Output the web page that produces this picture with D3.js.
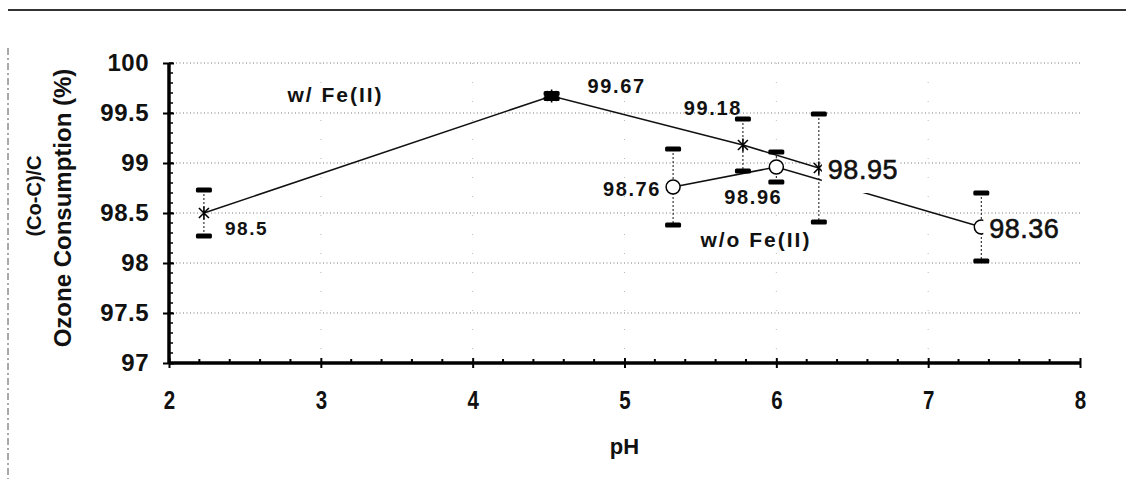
<!DOCTYPE html>
<html>
<head>
<meta charset="utf-8">
<script src="https://cdn.jsdelivr.net/npm/d3@7"></script>
<style>
  html, body { margin: 0; padding: 0; background: #fff; }
  svg { display: block; }
  text { font-family: "Liberation Sans", Arial, Helvetica, sans-serif; fill: #111; }
</style>
</head>
<body>
<svg id="chart" width="1126" height="479"></svg>
<script>
// Ozone consumption vs pH, with and without Fe(II)
const seriesNames = ["w/ Fe(II)", "w/o Fe(II)"];

const phWith = [2.23, 4.52, 5.78, 6.28];
const consWith = [98.5, 99.67, 99.18, 98.95];
const errWith = [0.23, 0.025, 0.26, 0.54];

const phWithout = [5.32, 6.0, 7.35];
const consWithout = [98.76, 98.96, 98.36];
const errWithout = [0.38, 0.15, 0.34];

const xTicks = [2, 3, 4, 5, 6, 7, 8];
const yTicks = [97, 97.5, 98, 98.5, 99, 99.5, 100];
const xTitle = "pH";
const yTitleLines = ["(Co-C)/C", "Ozone Consumption (%)"];

const svg = d3.select("#chart");

const x = d3.scaleLinear().domain([2, 8]).range([169, 1080]);
const y = d3.scaleLinear().domain([97, 100]).range([363, 63]);

// page frame remnants: top rule and dashed left edge
svg.append("line").attr("x1", 8).attr("x2", 1126).attr("y1", 10).attr("y2", 10)
  .attr("stroke", "#333").attr("stroke-width", 2);
svg.append("line").attr("x1", 8).attr("x2", 8).attr("y1", 48).attr("y2", 479)
  .attr("stroke", "#555").attr("stroke-width", 1).attr("stroke-dasharray", "7,3,2,3");

// horizontal dotted gridlines
svg.append("g").selectAll("line").data(yTicks.filter(d => d > 97)).join("line")
  .attr("x1", x(2)).attr("x2", x(8))
  .attr("y1", d => y(d)).attr("y2", d => y(d))
  .attr("stroke", "#777").attr("stroke-width", 1).attr("stroke-dasharray", "1,2.5");

// faint vertical dotted gridlines
svg.append("g").selectAll("line").data(xTicks.filter(d => d > 2 && d < 8)).join("line")
  .attr("x1", d => x(d)).attr("x2", d => x(d))
  .attr("y1", y(100)).attr("y2", y(97))
  .attr("stroke", "#bbb").attr("stroke-width", 1).attr("stroke-dasharray", "1,18");

// y axis
const yAxis = svg.append("g").attr("transform", `translate(${x(2)},0)`)
  .call(d3.axisLeft(y).tickValues(yTicks).tickSize(6).tickPadding(14)
    .tickFormat(d => d3.format("")(d)));
yAxis.select(".domain").attr("stroke", "#000").attr("stroke-width", 3.5)
  .attr("d", `M0,${y(100)}V${y(97)}`);
yAxis.selectAll(".tick line").attr("stroke", "#000").attr("stroke-width", 2).attr("x2", -6).attr("x1", 5);
yAxis.selectAll(".tick text")
  .style("font-family", '"Liberation Sans", Arial, sans-serif')
  .style("font-size", "24px").style("font-weight", "bold").style("letter-spacing", "0.5px")
  .attr("fill", "#111");

// y minor ticks
svg.append("g").selectAll("line").data(d3.range(97.1, 100, 0.1)).join("line")
  .attr("x1", x(2)).attr("x2", x(2) + 4)
  .attr("y1", d => y(d)).attr("y2", d => y(d))
  .attr("stroke", "#000").attr("stroke-width", 1.5);

// x axis
const xAxis = svg.append("g").attr("transform", `translate(0,${y(97)})`)
  .call(d3.axisBottom(x).tickValues(xTicks).tickSize(6).tickPadding(22).tickFormat(d3.format("d")));
xAxis.select(".domain").attr("stroke", "#000").attr("stroke-width", 3.5)
  .attr("d", `M${x(2)},0H${x(8)}`);
xAxis.selectAll(".tick line").attr("stroke", "#000").attr("stroke-width", 2).attr("y1", -5).attr("y2", 5);
xAxis.selectAll(".tick text")
  .style("font-family", '"Liberation Sans", Arial, sans-serif')
  .style("font-size", "25px").style("font-weight", "bold")
  .attr("fill", "#111")
  .attr("transform", "scale(0.82,1)");

// x minor ticks
svg.append("g").selectAll("line").data(d3.range(2.2, 8, 0.2).filter(d => Math.abs(d - Math.round(d)) > 0.05)).join("line")
  .attr("x1", d => x(d)).attr("x2", d => x(d))
  .attr("y1", y(97)).attr("y2", y(97) - 4)
  .attr("stroke", "#000").attr("stroke-width", 2);

// axis titles
svg.append("text").attr("x", (x(2) + x(8)) / 2).attr("y", 454)
  .attr("text-anchor", "middle")
  .style("font-size", "22px").style("font-weight", "bold").text(xTitle);

svg.append("text").attr("transform", "translate(41,196) rotate(-90)")
  .attr("text-anchor", "middle")
  .style("font-size", "20px").style("font-weight", "bold").text(yTitleLines[0]);
svg.append("text").attr("transform", "translate(71,208) rotate(-90)")
  .attr("text-anchor", "middle")
  .style("font-size", "24px").style("font-weight", "bold").text(yTitleLines[1]);

const withData = phWith.map((p, i) => ({ ph: p, v: consWith[i], e: errWith[i] }));
const withoutData = phWithout.map((p, i) => ({ ph: p, v: consWithout[i], e: errWithout[i] }));

const line = d3.line().x(d => x(d.ph)).y(d => y(d.v));

// series lines
svg.append("path").datum(withData).attr("d", line)
  .attr("fill", "none").attr("stroke", "#111").attr("stroke-width", 1.6);
svg.append("path").datum(withoutData).attr("d", line)
  .attr("fill", "none").attr("stroke", "#111").attr("stroke-width", 1.6);

// markers: asterisks for w/ Fe(II), open circles for w/o Fe(II)
const star = "M-5,-5L5,5M-5,5L5,-5M0,-6.5L0,6.5";
svg.append("g").selectAll("path").data(withData).join("path")
  .attr("transform", d => `translate(${x(d.ph)},${y(d.v)})`)
  .attr("d", star).attr("fill", "none").attr("stroke", "#000").attr("stroke-width", 1.6);

// error bars (heavy caps sit over the asterisks)
function errorBars(data) {
  const g = svg.append("g");
  g.selectAll("line").data(data).join("line")
    .attr("x1", d => x(d.ph)).attr("x2", d => x(d.ph))
    .attr("y1", d => y(d.v + d.e)).attr("y2", d => y(d.v - d.e))
    .attr("stroke", "#111").attr("stroke-width", 1).attr("stroke-dasharray", "2,2");
  const caps = data.flatMap(d => [{ ph: d.ph, v: d.v + d.e }, { ph: d.ph, v: d.v - d.e }]);
  g.selectAll("rect").data(caps).join("rect")
    .attr("x", d => x(d.ph) - 8).attr("y", d => y(d.v) - 2.5)
    .attr("width", 16).attr("height", 5).attr("rx", 1.5)
    .attr("fill", "#000");
}
errorBars(withData);
errorBars(withoutData);

svg.append("g").selectAll("circle").data(withoutData).join("circle")
  .attr("cx", d => x(d.ph)).attr("cy", d => y(d.v)).attr("r", 7)
  .attr("fill", "#fff").attr("stroke", "#000").attr("stroke-width", 1.5);

// value labels
const labelSpecs = [
  { ph: phWith[0], v: consWith[0], dx: 21, dy: 22, anchor: "start", size: 19, big: false },
  { ph: phWith[1], v: consWith[1], dx: 36, dy: -3, anchor: "start", size: 20, big: false },
  { ph: phWith[2], v: consWith[2], dx: -1, dy: -30, anchor: "end", size: 20, big: false },
  { ph: phWithout[0], v: consWithout[0], dx: -12, dy: 9, anchor: "end", size: 20, big: false },
  { ph: phWithout[1], v: consWithout[1], dx: -23, dy: 37, anchor: "middle", size: 20, big: false },
  { ph: phWith[3], v: consWith[3], dx: 9, dy: 11, anchor: "start", size: 27, big: true },
  { ph: phWithout[2], v: consWithout[2], dx: 8, dy: 11, anchor: "start", size: 27, big: true }
];
labelSpecs.forEach(s => {
  const g = svg.append("g");
  const t = g.append("text")
    .attr("x", x(s.ph) + s.dx).attr("y", y(s.v) + s.dy)
    .attr("text-anchor", s.anchor)
    .style("font-size", s.size + "px")
    .style("font-weight", s.big ? "normal" : "bold")
    .style("letter-spacing", s.big ? "0.5px" : "1.6px")
    .attr("stroke", s.big ? "#111" : "none").attr("stroke-width", s.big ? 0.6 : 0)
    .text(d3.format(".2~f")(s.v));
  if (s.big) {
    // opaque label box hides whatever runs beneath the value
    const b = t.node().getBBox();
    g.insert("rect", "text").attr("x", b.x - 6).attr("y", b.y)
      .attr("width", b.width + 8).attr("height", b.height + 8).attr("fill", "#fff");
  }
});

// series name labels
svg.append("text").attr("x", x(2.78)).attr("y", y(99.61))
  .style("font-size", "21px").style("font-weight", "bold").style("letter-spacing", "2px")
  .text(seriesNames[0]);
svg.append("text").attr("x", x(5.5)).attr("y", y(98.16))
  .style("font-size", "21px").style("font-weight", "bold").style("letter-spacing", "2px")
  .text(seriesNames[1]);
</script>
</body>
</html>
